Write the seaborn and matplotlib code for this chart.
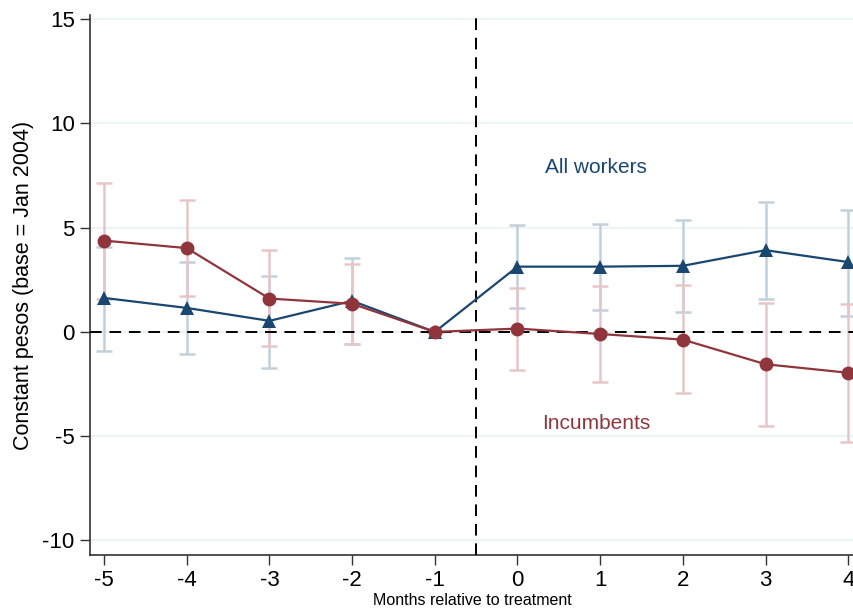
import matplotlib
matplotlib.use("Agg")
import matplotlib.pyplot as plt
import seaborn as sns
import pandas as pd

months = [-5, -4, -3, -2, -1, 0, 1, 2, 3, 4]

all_workers = [1.63, 1.15, 0.53, 1.49, 0.0, 3.13, 3.13, 3.17, 3.92, 3.35]
all_lo = [-0.91, -1.06, -1.73, -0.58, 0.0, 1.14, 1.06, 0.95, 1.57, 0.78]
all_hi = [4.09, 3.37, 2.69, 3.56, 0.0, 5.13, 5.19, 5.38, 6.23, 5.87]

incumbents = [4.38, 4.02, 1.60, 1.35, 0.0, 0.16, -0.10, -0.37, -1.55, -1.96]
inc_lo = [1.60, 1.73, -0.66, -0.56, 0.0, -1.84, -2.39, -2.95, -4.53, -5.27]
inc_hi = [7.16, 6.33, 3.91, 3.28, 0.0, 2.13, 2.21, 2.26, 1.39, 1.35]

yticks = [-10, -5, 0, 5, 10, 15]

BLUE = "#1a476f"
RED = "#90353b"
BLUE_CI = "#c2d0dc"
RED_CI = "#e8c6c8"

sns.set_theme(style="white")
plt.rcParams["font.family"] = ["Liberation Sans", "DejaVu Sans"]

df = pd.DataFrame({
    "month": months * 2,
    "value": all_workers + incumbents,
    "group": ["All workers"] * len(months) + ["Incumbents"] * len(months),
})

fig = plt.figure(figsize=(8.54, 6.11), dpi=100)
ax = fig.add_axes([90 / 854, 1 - 555 / 611, 1 - 90 / 854, (555 - 15) / 611])

for y in yticks:
    ax.axhline(y, color="#eaf2f3", lw=1.2, zorder=0)

# confidence intervals
def ci(vals, lo, hi, color, z):
    ax.errorbar(months, vals,
                yerr=[[v - l for v, l in zip(vals, lo)], [h - v for v, h in zip(vals, hi)]],
                fmt="none", ecolor=color, elinewidth=1.8, capsize=6,
                capthick=1.8, zorder=z)

ci(all_workers, all_lo, all_hi, BLUE_CI, 1)
ci(incumbents, inc_lo, inc_hi, RED_CI, 2)

ax.axhline(0, color="black", lw=1.4, ls=(0, (6, 4)), zorder=3)
ax.axvline(-0.5, color="black", lw=1.4, ls=(0, (6, 4)), zorder=3)

sns.lineplot(data=df, x="month", y="value", hue="group", style="group",
             markers={"All workers": "^", "Incumbents": "o"}, dashes=False,
             palette={"All workers": BLUE, "Incumbents": RED},
             markersize=10, markeredgewidth=0, linewidth=1.6,
             legend=False, ax=ax, zorder=4)

ax.text(0.33, 7.9, "All workers", color=BLUE, fontsize=15, va="center", ha="left")
ax.text(0.30, -4.4, "Incumbents", color=RED, fontsize=15, va="center", ha="left")

ax.set_xlim(-5.17, 4.07)
ax.set_ylim(-10.7, 15.2)
ax.set_xticks(months)
ax.set_xticklabels([str(m) for m in months])
ax.set_yticks(yticks)
ax.set_yticklabels([str(t) for t in yticks])
ax.tick_params(axis="both", direction="out", length=7, width=1, color="#333333",
               labelsize=16, labelcolor="black", left=True, bottom=True, pad=4)
ax.set_xlabel("Months relative to treatment", fontsize=11.5, labelpad=1, color="black")
ax.set_ylabel("Constant pesos (base = Jan 2004)", fontsize=15.5, labelpad=6, color="black")

for s in ["top", "right"]:
    ax.spines[s].set_visible(False)
for s in ["left", "bottom"]:
    ax.spines[s].set_color("#333333")
    ax.spines[s].set_linewidth(1.2)

fig.savefig("out.png", dpi=100)
